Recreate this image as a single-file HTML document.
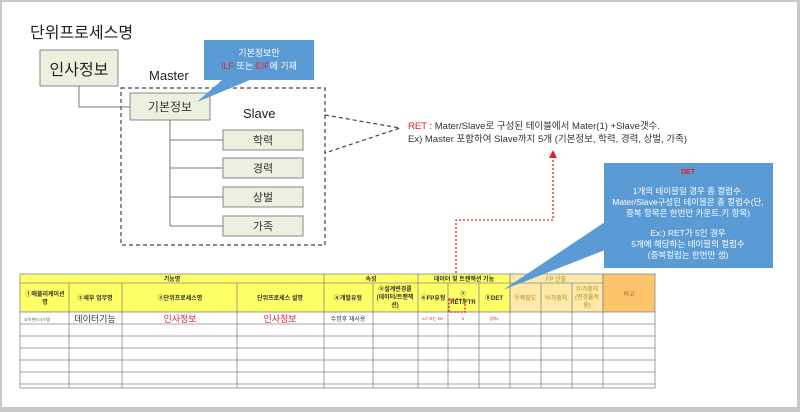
<!DOCTYPE html>
<html><head><meta charset="utf-8"><style>
html,body{margin:0;padding:0;background:#fff}
svg{display:block}
text{font-family:"Liberation Sans","Noto Sans CJK KR",sans-serif}
</style></head><body>
<svg width="800" height="412" viewBox="0 0 800 412" xmlns="http://www.w3.org/2000/svg">
<rect x="0" y="0" width="800" height="412" fill="#c8c8c8"/>
<rect x="2" y="2" width="795" height="405" fill="#fff"/>

<text x="30" y="38" font-size="16" fill="#222">단위프로세스명</text>
<rect x="40" y="50" width="78" height="36" fill="#ebf1de" stroke="#888" stroke-width="1"/>
<text x="79" y="75" font-size="16" fill="#222" text-anchor="middle">인사정보</text>
<text x="149" y="80" font-size="13" fill="#222">Master</text>

<rect x="121" y="88" width="204" height="157" fill="none" stroke="#444" stroke-width="1.2" stroke-dasharray="4,3"/>
<polyline points="79,86 79,107 130,107" fill="none" stroke="#777" stroke-width="1"/>
<rect x="130" y="93" width="80" height="27" fill="#ebf1de" stroke="#888"/>
<text x="170" y="111" font-size="12" fill="#333" text-anchor="middle">기본정보</text>
<text x="243" y="118" font-size="13" fill="#222">Slave</text>

<polyline points="170,120 170,226" fill="none" stroke="#777"/>
<g stroke="#777"><line x1="170" y1="140" x2="223" y2="140"/><line x1="170" y1="168" x2="223" y2="168"/><line x1="170" y1="197" x2="223" y2="197"/><line x1="170" y1="226" x2="223" y2="226"/></g>
<g fill="#ebf1de" stroke="#888">
<rect x="223" y="130" width="80" height="20"/><rect x="223" y="158" width="80" height="20"/><rect x="223" y="187" width="80" height="20"/><rect x="223" y="216" width="80" height="20"/></g>
<g font-size="11" fill="#333" text-anchor="middle">
<text x="263" y="144">학력</text><text x="263" y="172">경력</text><text x="263" y="201">상벌</text><text x="263" y="230">가족</text></g>

<polygon points="204,40 314,40 314,80 250,80 197,102 222,80 204,80" fill="#5b9bd5"/>
<text x="259" y="56" font-size="9" fill="#fff" text-anchor="middle">기본정보만</text>
<text x="259" y="69" font-size="9" fill="#fff" text-anchor="middle"><tspan fill="#e02040">ILF</tspan> 또는 <tspan fill="#e02040">EIF</tspan>에 기재</text>

<polyline points="325,115 400,128 325,153" fill="none" stroke="#444" stroke-width="1.2" stroke-dasharray="4,3"/>
<text x="408" y="129" font-size="9.5" fill="#333"><tspan fill="#e02020">RET</tspan> : Mater/Slave로 구성된 테이블에서 Mater(1) +Slave갯수.</text>
<text x="408" y="142" font-size="9.5" fill="#333">Ex) Master 포함하여 Slave까지 5개 (기본정보, 학력, 경력, 상벌, 가족)</text>

<polyline points="553,156 553,220 456,220 456,300" fill="none" stroke="#e02020" stroke-width="1.3" stroke-dasharray="2,2"/>
<polygon points="549,158 557,158 553,150" fill="#e02020"/>

<!-- table -->
<g stroke="#888" stroke-width="0.8">
<rect x="20" y="274" width="490" height="38" fill="#ffff66"/>
<rect x="510" y="274" width="93" height="38" fill="#fde9a8"/>
<rect x="603" y="274" width="52" height="38" fill="#fcc56c"/>
<rect x="20" y="312" width="635" height="76" fill="#fff"/>
<line x1="20" y1="283" x2="603" y2="283"/>
</g>
<g stroke="#888" stroke-width="0.8">
<line x1="324" y1="274" x2="324" y2="388"/><line x1="418" y1="274" x2="418" y2="388"/><line x1="510" y1="274" x2="510" y2="388"/><line x1="603" y1="274" x2="603" y2="388"/>
<line x1="69" y1="283" x2="69" y2="388"/><line x1="122" y1="283" x2="122" y2="388"/><line x1="237" y1="283" x2="237" y2="388"/><line x1="373" y1="283" x2="373" y2="388"/><line x1="448" y1="283" x2="448" y2="388"/><line x1="479" y1="283" x2="479" y2="388"/><line x1="541" y1="283" x2="541" y2="388"/><line x1="572" y1="283" x2="572" y2="388"/>
<line x1="20" y1="324" x2="655" y2="324"/><line x1="20" y1="336" x2="655" y2="336"/><line x1="20" y1="348" x2="655" y2="348"/><line x1="20" y1="360" x2="655" y2="360"/><line x1="20" y1="372" x2="655" y2="372"/><line x1="20" y1="384" x2="655" y2="384"/>
</g>
<rect x="604" y="163" width="169" height="105" fill="#5b9bd5"/>
<polygon points="605,222 605,250 503,290" fill="#5b9bd5"/>
<g font-size="8.5" fill="#fff" text-anchor="middle">
<text x="688" y="174" fill="#e02020" font-size="7" font-weight="bold">DET</text>
<text x="688" y="194">1개의 테이블일 경우 총 컬럼수.</text>
<text x="688" y="205">Mater/Slave구성된 테이블은 총 컬럼수(단,</text>
<text x="688" y="216">중복 항목은 한번만 카운트.키 항목)</text>
<text x="688" y="236">Ex:) RET가 5인 경우</text>
<text x="688" y="247">5개에 해당하는 테이블의 컬럼수</text>
<text x="688" y="258">(중복컬럼는 한번만 셈)</text>
</g>
<rect x="449" y="299" width="16" height="13" fill="none" stroke="#e02020" stroke-width="1.2" stroke-dasharray="2,1.5"/>

<g font-size="6" fill="#333" text-anchor="middle" font-weight="bold">
<text x="172" y="281">기능명</text><text x="371" y="281">속성</text><text x="464" y="281">데이터 및 트랜잭션 기능</text>
<text x="556" y="281" fill="#c8a850">FP 산출</text><text x="629" y="296" fill="#c08840">비고</text>
<text x="45" y="296">①애플리케이션</text><text x="45" y="304">명</text>
<text x="95" y="300">②세부 업무명</text><text x="180" y="300">③단위프로세스명</text><text x="280" y="300">단위프로세스 설명</text>
<text x="348" y="300">④개발유형</text><text x="395" y="291">⑤설계변경률</text><text x="395" y="299">(데이터/트랜잭</text><text x="395" y="307">션)</text>
<text x="433" y="300">⑥FP유형</text><text x="463" y="296">⑦</text><text x="463" y="304">RET/FTR</text><text x="494" y="300">⑧DET</text>
<text x="525" y="300" fill="#c8a850">⑨복잡도</text><text x="556" y="300" fill="#c8a850">⑩가중치</text><text x="587" y="291" fill="#c8a850">⑪가중치</text><text x="587" y="299" fill="#c8a850">(변경율적</text><text x="587" y="307" fill="#c8a850">용)</text>
</g>
<g font-size="4" fill="#555"><text x="24" y="321">조직관리시스템</text></g>
<text x="95" y="322" font-size="9" fill="#333" text-anchor="middle">데이터기능</text>
<text x="180" y="322" font-size="9" fill="#e02030" text-anchor="middle">인사정보</text>
<text x="280" y="322" font-size="9" fill="#e02030" text-anchor="middle">인사정보</text>
<text x="348" y="321" font-size="6" fill="#333" text-anchor="middle">수정후 재사용</text>
<text x="433" y="320" font-size="4" fill="#e02020" text-anchor="middle">ILF 또는 EIF</text>
<text x="463" y="320" font-size="4" fill="#e02020" text-anchor="middle">5</text>
<text x="494" y="320" font-size="4" fill="#e02020" text-anchor="middle">입력x</text>
</svg>
</body></html>
